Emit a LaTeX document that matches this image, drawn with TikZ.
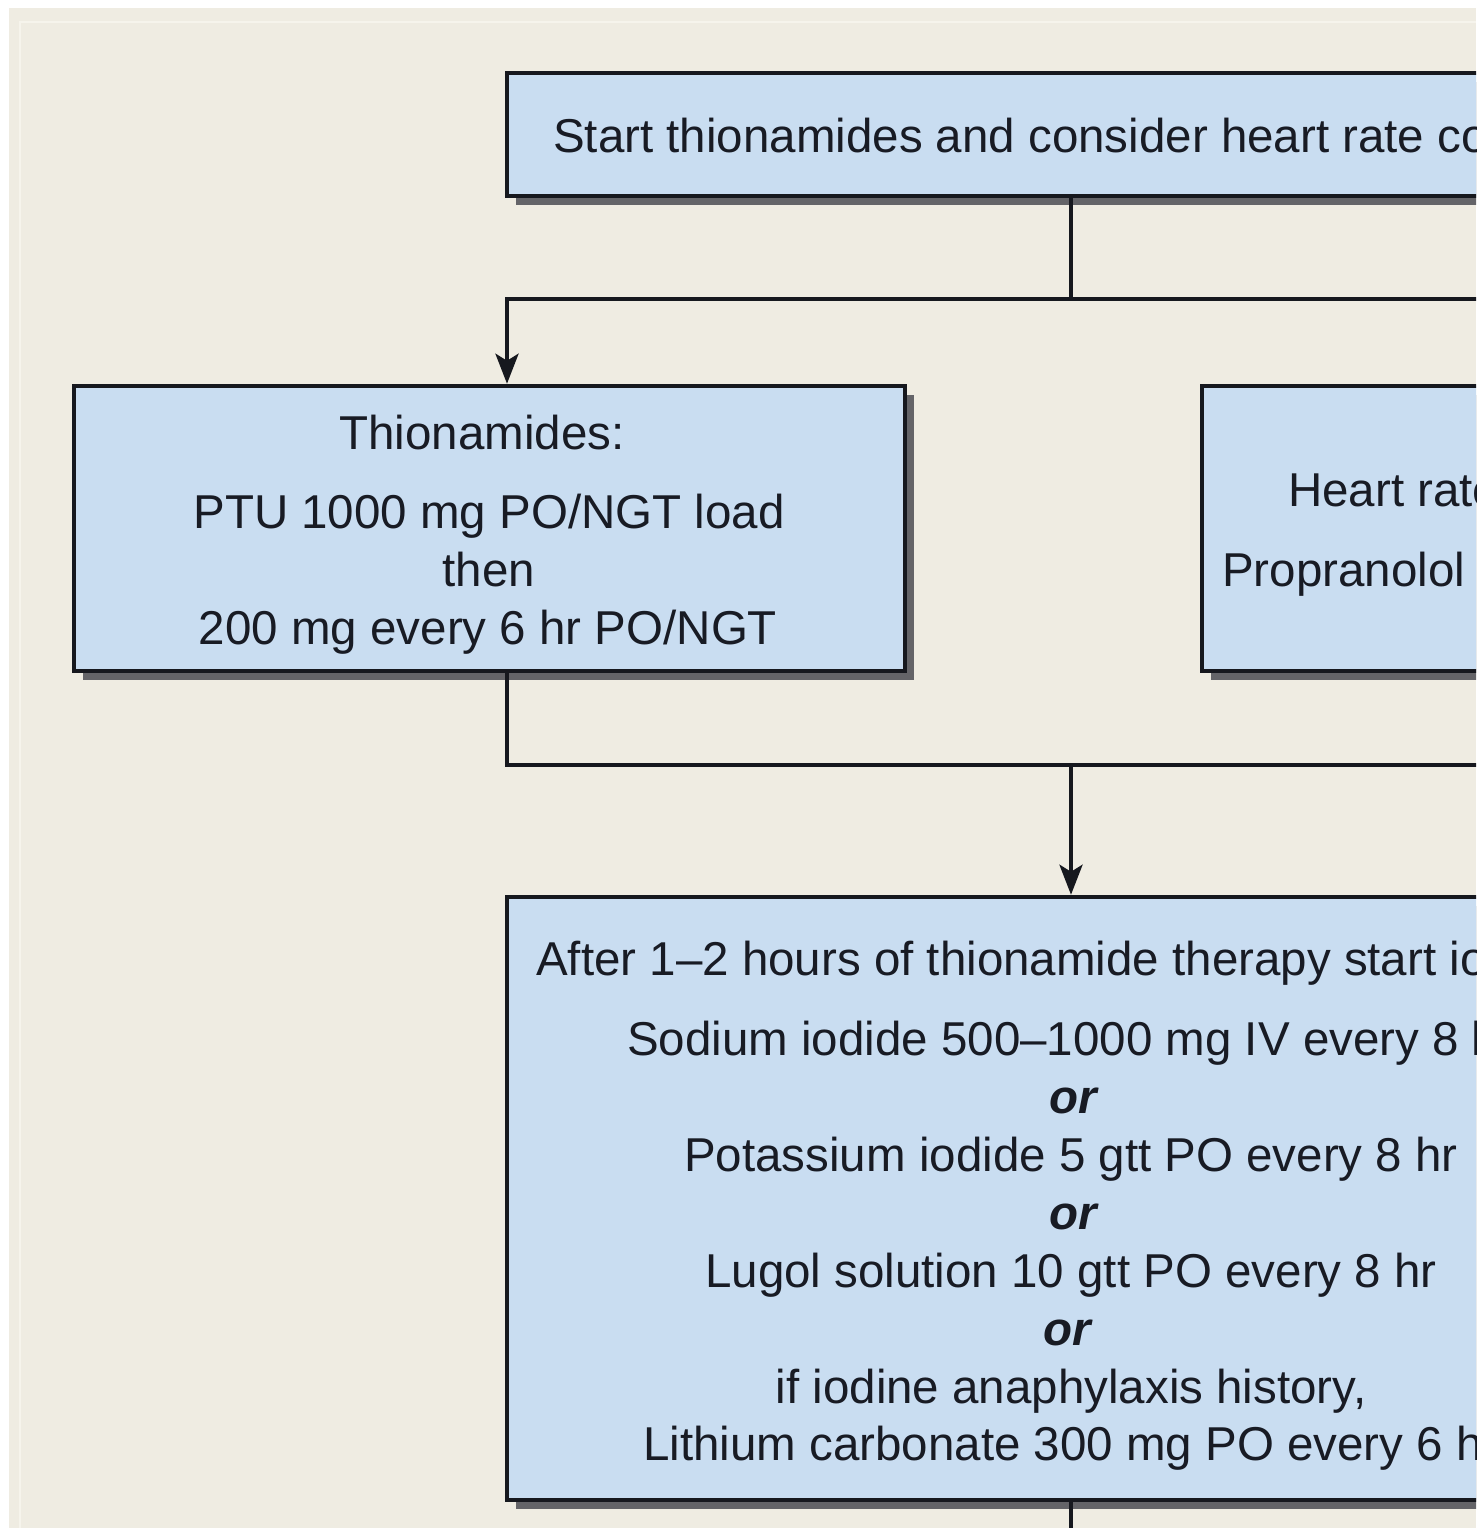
\documentclass[tikz,border=0pt]{standalone}
\usepackage{fontspec}
\setmainfont{Liberation Sans}
\usetikzlibrary{arrows.meta,shadows}
\definecolor{paper}{RGB}{239,236,226}
\definecolor{paperline}{RGB}{246,244,236}
\definecolor{boxfill}{RGB}{201,221,241}
\definecolor{boxline}{RGB}{22,24,30}
\definecolor{boxshadow}{RGB}{100,100,104}
\definecolor{ink}{RGB}{24,27,36}
\newcommand{\bodysize}{\fontsize{47.5}{58}\selectfont}
\begin{document}
\begin{tikzpicture}[x=1pt,y=-1pt,
  box/.style={draw=boxline, line width=4.5pt, fill=boxfill, inner sep=0pt,
    drop shadow={shadow xshift=9pt, shadow yshift=-9pt, fill=boxshadow, opacity=1}},
  txt/.style={inner sep=0pt, text=ink, font=\bodysize},
  ortxt/.style={txt, font=\bodysize\bfseries\itshape},
  conn/.style={draw=boxline, line width=4pt},
  arr/.style={conn, -{Stealth[length=30pt,width=23pt,inset=7pt]}}
]
\useasboundingbox (0,0) rectangle (1476,1528);
\clip (0,0) rectangle (1476,1528);

% page and panel background
\fill[white] (0,0) rectangle (1476,1528);
\fill[paper] (9,8) rectangle (1476,1528);
\draw[paperline, line width=2pt] (20,1528) -- (20,22) -- (1476,22);

% boxes
\node[box, minimum width=1128pt, minimum height=123pt] (start) at (1071,134.5) {};
\node[box, minimum width=831pt, minimum height=285pt] (thio) at (489.5,528.5) {};
\node[box, minimum width=831pt, minimum height=285pt] (hr) at (1617.5,528.5) {};
\node[box, minimum width=1128pt, minimum height=603pt] (iod) at (1071,1198.5) {};

% connector columns and junction points
\coordinate (colL) at (507,0);
\coordinate (colR) at (1635,0);
\coordinate (split) at (1071,299);
\coordinate (joinL) at (507,765);
\coordinate (joinR) at (1635,765);
\coordinate (joinM) at (1071,765);
\coordinate (down) at (1071,1540);

% connectors
\draw[conn] (start.south) -- (split);
\draw[arr] (split) -| (thio.north -| colL);
\draw[arr] (split) -| (hr.north -| colR);
\draw[conn] (thio.south -| colL) -- (joinL) -- (joinR) -- (hr.south -| colR);
\draw[arr] (joinM) -- (iod.north);
\draw[conn] (iod.south) -- (down);

% texts
\node[txt, anchor=base west] (s1) at (553,152) {Start thionamides and consider heart rate co};

\node[txt, anchor=base] (a1) at (482,449) {Thionamides:};
\node[txt, anchor=base] (a2) at (489,528) {PTU 1000 mg PO/NGT load};
\node[txt, anchor=base] (a3) at (489,586) {then};
\node[txt, anchor=base] (a4) at (488,644) {200 mg every 6 hr PO/NGT};

\node[txt, anchor=base west] (b1) at (1288,506) {Heart rate};
\node[txt, anchor=base west] (b2) at (1222,586) {Propranolol};

\node[txt, anchor=base west] (c1) at (536,975) {After 1--2 hours of thionamide therapy start io};
\node[txt, anchor=base west] (c2) at (627,1055) {Sodium iodide 500--1000 mg IV every 8 h};
\node[ortxt, anchor=base] (c3) at (1073,1113) {or};
\node[txt, anchor=base] (c4) at (1071,1171) {Potassium iodide 5 gtt PO every 8 hr};
\node[ortxt, anchor=base] (c5) at (1073,1229) {or};
\node[txt, anchor=base] (c6) at (1071,1287) {Lugol solution 10 gtt PO every 8 hr};
\node[ortxt, anchor=base] (c7) at (1067,1345) {or};
\node[txt, anchor=base] (c8) at (1071,1403) {if iodine anaphylaxis history,};
\node[txt, anchor=base west] (c9) at (643,1460) {Lithium carbonate 300 mg PO every 6 h};
\end{tikzpicture}
\end{document}
